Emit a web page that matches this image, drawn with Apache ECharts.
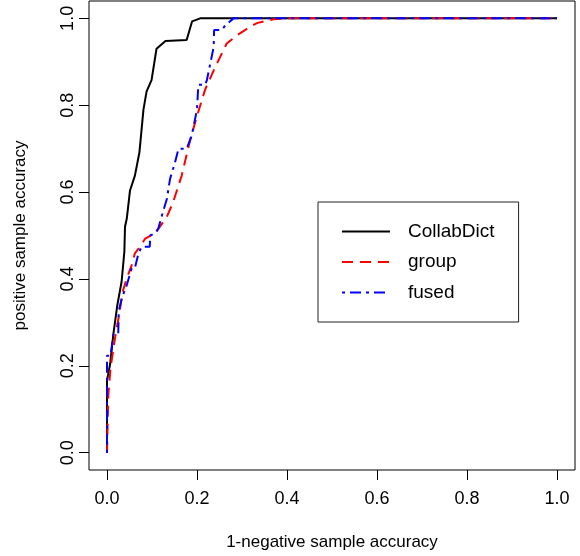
<!DOCTYPE html>
<html>
<head>
<meta charset="utf-8">
<script src="https://cdn.jsdelivr.net/npm/echarts@6/dist/echarts.min.js"></script>
<style>
  html, body { margin: 0; padding: 0; background: #fff; }
  #chart { width: 580px; height: 556px; }
</style>
</head>
<body>
<div id="chart"></div>
<script>
// ROC-like curves, [false positive rate, true positive rate]
var collabDict = [
  [0, 0], [0, 0.166], [0.007, 0.204], [0.014, 0.272], [0.023, 0.34], [0.0325, 0.394],
  [0.0386, 0.463], [0.040, 0.52], [0.044, 0.539], [0.051, 0.603], [0.062, 0.638],
  [0.072, 0.691], [0.081, 0.79], [0.088, 0.832], [0.099, 0.858], [0.11, 0.93],
  [0.13, 0.948], [0.177, 0.95], [0.189, 0.993], [0.207, 1], [1, 1]
];
var group = [
  [0, 0], [0.003, 0.135], [0.008, 0.196], [0.018, 0.265], [0.027, 0.318], [0.035, 0.371],
  [0.044, 0.402], [0.055, 0.432], [0.062, 0.459], [0.073, 0.474], [0.085, 0.493],
  [0.107, 0.505], [0.133, 0.543], [0.147, 0.577], [0.166, 0.638], [0.185, 0.721],
  [0.2, 0.775], [0.218, 0.836], [0.241, 0.889], [0.266, 0.942], [0.289, 0.961],
  [0.311, 0.976], [0.333, 0.989], [0.37, 0.998], [0.41, 1], [1, 1]
];
var fused = [
  [0, 0], [0, 0.223], [0.008, 0.223], [0.014, 0.272], [0.025, 0.272], [0.026, 0.326],
  [0.033, 0.356], [0.044, 0.386], [0.055, 0.425], [0.062, 0.425], [0.07, 0.459],
  [0.077, 0.474], [0.095, 0.474], [0.096, 0.5], [0.107, 0.505], [0.114, 0.516],
  [0.122, 0.546], [0.133, 0.584], [0.14, 0.63], [0.151, 0.668], [0.159, 0.7],
  [0.177, 0.7], [0.188, 0.729], [0.2, 0.79], [0.203, 0.847], [0.218, 0.847],
  [0.222, 0.858], [0.237, 0.934], [0.238, 0.973], [0.255, 0.973], [0.263, 0.984],
  [0.281, 1], [1, 1]
];
var tickValues = [0, 0.2, 0.4, 0.6, 0.8, 1.0];

var font = "'Liberation Sans', Arial, Helvetica, sans-serif";
var chart = echarts.init(document.getElementById("chart"));

chart.setOption({
  backgroundColor: "#fff",
  animation: false,
  textStyle: { fontFamily: font, color: "#000" },
  grid: {
    left: 89, right: 5, top: 1, bottom: 83,
    show: true, borderColor: "#000", borderWidth: 1, backgroundColor: "transparent"
  },
  legend: {
    orient: "vertical",
    left: 318, top: 202,
    borderColor: "#222", borderWidth: 1,
    padding: [20, 24, 20, 23],
    itemWidth: 48, itemHeight: 14, itemGap: 11.5,
    itemStyle: { color: "transparent", borderWidth: 0 },
    textStyle: { fontSize: 19, color: "#000", fontFamily: font, padding: [0, 0, 0, 13] },
    data: ["CollabDict", "group", "fused"]
  },
  xAxis: {
    type: "value", min: -0.04, max: 1.04,
    name: "1-negative sample accuracy",
    nameLocation: "middle", nameGap: 64,
    nameTextStyle: { fontSize: 17, color: "#000", fontFamily: font },
    axisLine: { show: false, onZero: false },
    splitLine: { show: false },
    axisTick: { show: true, length: 10, customValues: tickValues, lineStyle: { color: "#000" } },
    axisLabel: {
      fontSize: 18, color: "#000", margin: 20, customValues: tickValues,
      formatter: function (v) { return v.toFixed(1); }
    }
  },
  yAxis: {
    type: "value", min: -0.04, max: 1.04,
    name: "positive sample accuracy",
    nameLocation: "middle", nameGap: 60,
    nameTextStyle: { fontSize: 17, color: "#000", fontFamily: font },
    axisLine: { show: false, onZero: false },
    splitLine: { show: false },
    axisTick: { show: true, length: 10, customValues: tickValues, lineStyle: { color: "#000" } },
    axisLabel: {
      fontSize: 18, color: "#000", margin: 12, rotate: 90, customValues: tickValues,
      formatter: function (v) { return v.toFixed(1); }
    }
  },
  series: [
    {
      name: "CollabDict", type: "line", data: collabDict,
      symbol: "none", showSymbol: false,
      itemStyle: { color: "#000" },
      lineStyle: { color: "#000", width: 2 }
    },
    {
      name: "group", type: "line", data: group,
      symbol: "none", showSymbol: false,
      itemStyle: { color: "#ff0000" },
      lineStyle: { color: "#ff0000", width: 2, type: [11, 7] }
    },
    {
      name: "fused", type: "line", data: fused,
      symbol: "none", showSymbol: false,
      itemStyle: { color: "#0000ff" },
      lineStyle: { color: "#0000ff", width: 2, type: [3, 5, 11, 5] }
    }
  ]
});
</script>
</body>
</html>
